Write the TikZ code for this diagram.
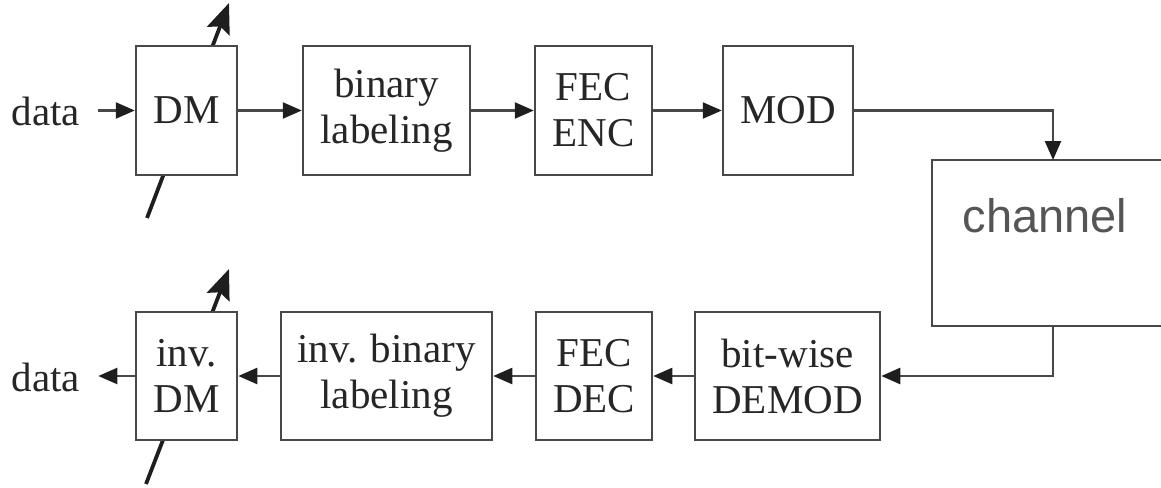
\documentclass[tikz,border=0pt]{standalone}
\usepackage{fontspec}
\setmainfont{Liberation Serif}
\newfontfamily\chfont{Liberation Sans}
\usetikzlibrary{arrows.meta}
\definecolor{ln}{HTML}{484848}
\definecolor{tx}{HTML}{262626}
\definecolor{chtx}{HTML}{555555}
\definecolor{hd}{HTML}{1E1E1E}
\begin{document}
\begin{tikzpicture}[x=1pt,y=-1pt,
 blk/.style={draw=ln, line width=2.5pt, fill=white, inner sep=0pt, minimum height=129pt, text=tx, align=center, font=\fontsize{41}{46}\selectfont},
 conn/.style={draw=ln, line width=2.4pt, -{Triangle[length=19pt,width=16pt,color=hd]}},
 diag/.style={draw=hd, line width=3.8pt, -{Stealth[length=30pt,width=24pt,inset=5pt]}},
 lbl/.style={text=tx, font=\fontsize{41}{46}\selectfont, inner sep=0pt}]
\useasboundingbox (0,0) rectangle (1161,487);
\clip (0,0) rectangle (1161,487);
% diagonal control arrows (behind the boxes)
\coordinate (d1s) at (147,218); \coordinate (d1e) at (229,3);
\coordinate (d2s) at (146,484); \coordinate (d2e) at (229,269);
\draw[diag] (d1s) -- (d1e);
\draw[diag] (d2s) -- (d2e);
% top row
\node[blk, minimum width=101pt] (dm) at (186.5,110.5) {DM};
\node[blk, minimum width=167pt] (bin) at (386.5,110.5) {binary\\labeling};
\node[blk, minimum width=117pt] (fecenc) at (593.5,110.5) {FEC\\ENC};
\node[blk, minimum width=130pt] (mod) at (788,110.5) {MOD};
\node[lbl] (din) at (46,111) {data};
% channel
\node[draw=ln, line width=2.5pt, fill=white, inner sep=0pt, minimum width=268pt, minimum height=166pt] (channel) at (1066,243) {};
\node[font=\chfont\fontsize{47}{56}\selectfont, text=chtx, anchor=base, inner sep=0pt] (chl) at (1045,232) {channel};
\coordinate (chin) at (1053,160);
\coordinate (chout) at (1053,326);
% bottom row
\node[blk, minimum width=101pt, minimum height=128pt] (invdm) at (186.5,376) {inv.\\DM};
\node[blk, minimum width=211pt, minimum height=128pt] (invbin) at (386.5,376) {inv. binary\\labeling};
\node[blk, minimum width=116pt, minimum height=128pt] (fecdec) at (594,376) {FEC\\DEC};
\node[blk, minimum width=185pt, minimum height=128pt] (demod) at (787.5,376) {bit-wise\\DEMOD};
\node[lbl] (dout) at (46,377) {data};
% connectors
\draw[conn] ([xshift=18pt]din.east |- dm.west) -- (dm.west);
\draw[conn] (dm.east) -- (bin.west);
\draw[conn] (bin.east) -- (fecenc.west);
\draw[conn] (fecenc.east) -- (mod.west);
\draw[conn] (mod.east) -| (chin);
\draw[conn] (chout) |- (demod.east);
\draw[conn] (demod.west) -- (fecdec.east);
\draw[conn] (fecdec.west) -- (invbin.east);
\draw[conn] (invbin.west) -- (invdm.east);
\draw[conn] (invdm.west) -- ([xshift=18pt]dout.east |- invdm.west);
\end{tikzpicture}
\end{document}
